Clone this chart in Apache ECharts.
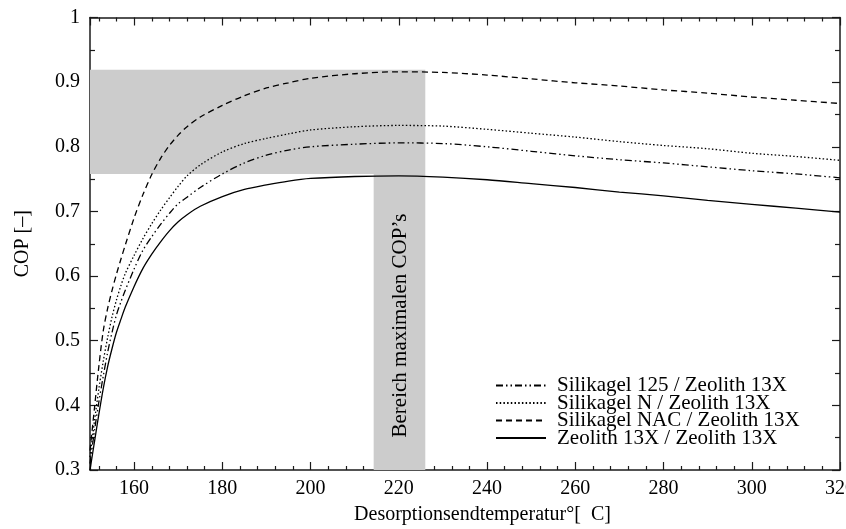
<!DOCTYPE html>
<html>
<head>
<meta charset="utf-8">
<script src="https://cdn.jsdelivr.net/npm/echarts@6/dist/echarts.min.js"></script>
<style>html,body{margin:0;padding:0;background:#fff}#c{width:846px;height:529px}</style>
</head>
<body>
<div id="c"></div>
<script>
// Desorption end temperature [°C]
const temps = [150,151,152,153,154,155,156,157,158,160,162,164,166,168,170,172,175,180,185,190,195,200,210,220,230,240,250,260,270,280,290,300,310,320];
// COP values
const copSilikagel125 = [0.310,0.360,0.405,0.445,0.482,0.513,0.540,0.560,0.578,0.611,0.640,0.661,0.680,0.697,0.712,0.722,0.737,0.758,0.775,0.787,0.795,0.800,0.804,0.806,0.805,0.800,0.793,0.786,0.780,0.775,0.769,0.763,0.758,0.752];
const copSilikagelN   = [0.320,0.375,0.425,0.468,0.505,0.537,0.563,0.585,0.604,0.632,0.658,0.681,0.702,0.721,0.739,0.755,0.772,0.792,0.805,0.813,0.820,0.826,0.831,0.833,0.832,0.827,0.821,0.815,0.808,0.802,0.797,0.790,0.785,0.779];
const copSilikagelNAC = [0.330,0.395,0.460,0.515,0.550,0.578,0.603,0.626,0.648,0.690,0.726,0.757,0.782,0.802,0.818,0.831,0.846,0.864,0.879,0.891,0.899,0.906,0.913,0.916,0.915,0.911,0.905,0.899,0.894,0.888,0.883,0.877,0.872,0.867];
const copZeolith      = [0.300,0.343,0.386,0.426,0.460,0.488,0.513,0.533,0.552,0.584,0.612,0.634,0.653,0.670,0.684,0.695,0.708,0.723,0.734,0.741,0.747,0.751,0.754,0.755,0.753,0.749,0.743,0.737,0.730,0.724,0.717,0.711,0.705,0.699];
const seriesNames = ['Silikagel 125 / Zeolith 13X','Silikagel N / Zeolith 13X','Silikagel NAC / Zeolith 13X','Zeolith 13X / Zeolith 13X'];
// Region of maximal COPs
const bandCopRange = [0.758, 0.919];
const bandTempRange = [214.3, 226];
const xRange = [150, 320];
const yRange = [0.3, 1];
const bandLabel = 'Bereich maximalen COP’s';
const xName = 'Desorptionsendtemperatur°[  C]';
const yName = 'COP [–]';

const FONT = 'Liberation Serif';
const pairs = arr => temps.map((t, i) => [t, arr[i]]);
const axisLineStyle = {color: '#1a1a1a', width: 1.5};

function xAxisCfg(pos, showLabels) {
  return {
    type: 'value', position: pos, min: xRange[0], max: xRange[1],
    splitNumber: 8, minInterval: 20, maxInterval: 20,
    axisLine: {show: true, onZero: false, lineStyle: axisLineStyle},
    axisTick: {show: true, inside: true, length: 8, lineStyle: {color: '#1a1a1a', width: 1.2}},
    minorTick: {show: true, splitNumber: 5, length: 4, lineStyle: {color: '#1a1a1a', width: 1.2}},
    splitLine: {show: false}, minorSplitLine: {show: false},
    axisLabel: {show: showLabels, showMinLabel: false, fontFamily: FONT, fontSize: 20, color: '#000', margin: 9},
    name: showLabels ? xName : '', nameLocation: 'middle', nameGap: 35,
    nameTextStyle: {fontFamily: FONT, fontSize: 20, color: '#000', padding: [0, 0, 0, 35]}
  };
}
function yAxisCfg(pos, showLabels) {
  return {
    type: 'value', position: pos, min: yRange[0], max: yRange[1], interval: 0.1,
    axisLine: {show: true, onZero: false, lineStyle: axisLineStyle},
    axisTick: {show: true, inside: true, length: 8, lineStyle: {color: '#1a1a1a', width: 1.2}},
    minorTick: {show: true, splitNumber: 2, length: 5, lineStyle: {color: '#1a1a1a', width: 1.2}},
    splitLine: {show: false}, minorSplitLine: {show: false},
    axisLabel: {show: showLabels, fontFamily: FONT, fontSize: 20, color: '#000', margin: 10,
      formatter: v => String(Math.round(v * 10) / 10)},
    name: showLabels ? yName : '', nameLocation: 'middle', nameGap: 57, nameRotate: 90,
    nameTextStyle: {fontFamily: FONT, fontSize: 20, color: '#000'}
  };
}

const dashes = [[7, 3, 1.5, 3, 1.5, 3], [1.5, 2.2], [6, 4], 'solid'];
const values = [copSilikagel125, copSilikagelN, copSilikagelNAC, copZeolith];

const series = values.map((v, i) => ({
  name: seriesNames[i], type: 'line', data: pairs(v), smooth: 0.3,
  symbol: 'none', showSymbol: false, z: 3, clip: true,
  lineStyle: {color: '#000', width: 1.3, type: dashes[i]},
  itemStyle: {color: '#000'}
}));
series.unshift({
  name: 'band', type: 'line', data: [], z: 1, silent: true,
  markArea: {
    silent: true,
    itemStyle: {color: '#cccccc', opacity: 1},
    data: [
      [{xAxis: xRange[0], yAxis: bandCopRange[0]}, {xAxis: bandTempRange[1], yAxis: bandCopRange[1]}],
      [{xAxis: bandTempRange[0], yAxis: yRange[0],
        label: {show: true, position: ['52%', '51.2%'], align: 'center', verticalAlign: 'middle',
          rotate: 90, formatter: bandLabel,
          fontFamily: FONT, fontSize: 21, color: '#000'}},
       {xAxis: bandTempRange[1], yAxis: bandCopRange[0]}]
    ],
    label: {show: false}
  }
});

const chart = echarts.init(document.getElementById('c'), null, {renderer: 'canvas'});
chart.setOption({
  animation: false,
  backgroundColor: '#fff',
  grid: {left: 90, right: 6, top: 17.5, bottom: 59, containLabel: false, outerBoundsMode: 'none'},
  xAxis: [xAxisCfg('bottom', true), xAxisCfg('top', false)],
  yAxis: [yAxisCfg('left', true), yAxisCfg('right', false)],
  legend: {
    data: seriesNames, orient: 'vertical', left: 495, top: 375, padding: 0,
    itemWidth: 50, itemHeight: 10, itemGap: -3.5,
    itemStyle: {opacity: 0, color: 'transparent', borderWidth: 0},
    textStyle: {fontFamily: FONT, fontSize: 21, color: '#000', padding: [0, 0, 0, 6]},
    selectedMode: false
  },
  series: series
});
</script>
</body>
</html>
